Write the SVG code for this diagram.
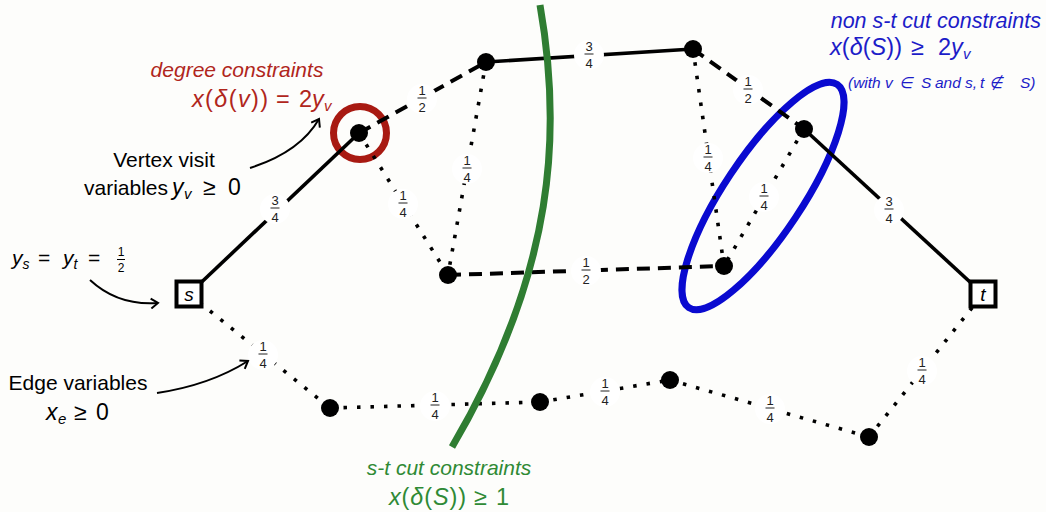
<svg xmlns="http://www.w3.org/2000/svg" width="1046" height="512" viewBox="0 0 1046 512">
<defs>
<style>
.t{font-family:"Liberation Sans",Arial,sans-serif;}
.i{font-style:italic;}
.solid{stroke:#000;stroke-width:3.6;fill:none;}
.dash{stroke:#000;stroke-width:4;fill:none;stroke-dasharray:13 8;}
.dot{stroke:#000;stroke-width:3.6;fill:none;stroke-dasharray:3.5 10;}
.lbg{fill:#ffffff;}
.fr{font-family:"Liberation Sans",Arial,sans-serif;font-size:13px;fill:#222;text-anchor:middle;}
.bar{stroke:#222;stroke-width:1;}
.node{fill:#000;}
.term{fill:#fff;stroke:#000;stroke-width:4;}
.ann{stroke:#000;stroke-width:2;fill:none;}
</style>
<marker id="arr" markerWidth="12" markerHeight="12" refX="9" refY="6" orient="auto" markerUnits="userSpaceOnUse">
<path d="M2,1 L9,6 L2,11" fill="none" stroke="#000" stroke-width="2"/>
</marker>
</defs>
<rect x="0" y="0" width="1046" height="512" fill="#fdfdfb"/>

<g id="degree-ring"><circle cx="360" cy="133" r="26.5" fill="none" stroke="#a81a12" stroke-width="7"/></g>
<g id="cut-ellipse"><ellipse cx="763" cy="196" rx="134" ry="39" transform="rotate(-56.4 763 196)" fill="none" stroke="#0a0ad0" stroke-width="7"/></g>

<g id="connectors">
<line class="solid" x1="189" y1="294" x2="359" y2="133"/>
<line class="dash" x1="359" y1="133" x2="486" y2="62"/>
<line class="solid" x1="486" y1="62" x2="693" y2="49"/>
<line class="dash" x1="693" y1="49" x2="804" y2="129"/>
<line class="solid" x1="804" y1="129" x2="983" y2="294"/>
<line class="dot" x1="359" y1="133" x2="448" y2="275"/>
<line class="dot" x1="486" y1="62" x2="448" y2="275"/>
<line class="dash" x1="448" y1="275" x2="724" y2="266"/>
<line class="dot" x1="693" y1="49" x2="724" y2="266"/>
<line class="dot" x1="804" y1="129" x2="724" y2="266"/>
<line class="dot" x1="189" y1="294" x2="330" y2="408"/>
<line class="dot" x1="330" y1="408" x2="540" y2="402"/>
<line class="dot" x1="540" y1="402" x2="670" y2="380"/>
<line class="dot" x1="670" y1="380" x2="869" y2="437"/>
<line class="dot" x1="869" y1="437" x2="983" y2="294"/>

<g id="edge-labels">
<g transform="translate(275,208)"><circle class="lbg" cx="0" cy="1" r="15"/><text class="fr" x="0" y="-3">3</text><line class="bar" x1="-4.5" y1="0" x2="4.5" y2="0"/><text class="fr" x="0" y="14">4</text></g>
<g transform="translate(422,98)"><circle class="lbg" cx="0" cy="1" r="15"/><text class="fr" x="0" y="-3">1</text><line class="bar" x1="-4.5" y1="0" x2="4.5" y2="0"/><text class="fr" x="0" y="14">2</text></g>
<g transform="translate(589,54)"><circle class="lbg" cx="0" cy="1" r="15"/><text class="fr" x="0" y="-3">3</text><line class="bar" x1="-4.5" y1="0" x2="4.5" y2="0"/><text class="fr" x="0" y="14">4</text></g>
<g transform="translate(748,89)"><circle class="lbg" cx="0" cy="1" r="15"/><text class="fr" x="0" y="-3">1</text><line class="bar" x1="-4.5" y1="0" x2="4.5" y2="0"/><text class="fr" x="0" y="14">2</text></g>
<g transform="translate(889,209)"><circle class="lbg" cx="0" cy="1" r="15"/><text class="fr" x="0" y="-3">3</text><line class="bar" x1="-4.5" y1="0" x2="4.5" y2="0"/><text class="fr" x="0" y="14">4</text></g>
<g transform="translate(403,203)"><circle class="lbg" cx="0" cy="1" r="15"/><text class="fr" x="0" y="-3">1</text><line class="bar" x1="-4.5" y1="0" x2="4.5" y2="0"/><text class="fr" x="0" y="14">4</text></g>
<g transform="translate(467,168)"><circle class="lbg" cx="0" cy="1" r="15"/><text class="fr" x="0" y="-3">1</text><line class="bar" x1="-4.5" y1="0" x2="4.5" y2="0"/><text class="fr" x="0" y="14">4</text></g>
<g transform="translate(586,270)"><circle class="lbg" cx="0" cy="1" r="15"/><text class="fr" x="0" y="-3">1</text><line class="bar" x1="-4.5" y1="0" x2="4.5" y2="0"/><text class="fr" x="0" y="14">2</text></g>
<g transform="translate(708,157)"><circle class="lbg" cx="0" cy="1" r="15"/><text class="fr" x="0" y="-3">1</text><line class="bar" x1="-4.5" y1="0" x2="4.5" y2="0"/><text class="fr" x="0" y="14">4</text></g>
<g transform="translate(764,196)"><circle class="lbg" cx="0" cy="1" r="15"/><text class="fr" x="0" y="-3">1</text><line class="bar" x1="-4.5" y1="0" x2="4.5" y2="0"/><text class="fr" x="0" y="14">4</text></g>
<g transform="translate(263,354)"><circle class="lbg" cx="0" cy="1" r="15"/><text class="fr" x="0" y="-3">1</text><line class="bar" x1="-4.5" y1="0" x2="4.5" y2="0"/><text class="fr" x="0" y="14">4</text></g>
<g transform="translate(435,405)"><circle class="lbg" cx="0" cy="1" r="15"/><text class="fr" x="0" y="-3">1</text><line class="bar" x1="-4.5" y1="0" x2="4.5" y2="0"/><text class="fr" x="0" y="14">4</text></g>
<g transform="translate(605,391)"><circle class="lbg" cx="0" cy="1" r="15"/><text class="fr" x="0" y="-3">1</text><line class="bar" x1="-4.5" y1="0" x2="4.5" y2="0"/><text class="fr" x="0" y="14">4</text></g>
<g transform="translate(770,408)"><circle class="lbg" cx="0" cy="1" r="15"/><text class="fr" x="0" y="-3">1</text><line class="bar" x1="-4.5" y1="0" x2="4.5" y2="0"/><text class="fr" x="0" y="14">4</text></g>
<g transform="translate(922,370)"><circle class="lbg" cx="0" cy="1" r="15"/><text class="fr" x="0" y="-3">1</text><line class="bar" x1="-4.5" y1="0" x2="4.5" y2="0"/><text class="fr" x="0" y="14">4</text></g>
</g>
</g>

<g id="st-cut"><path d="M540,5 C562,130 556,270 452,447" fill="none" stroke="#2f7d32" stroke-width="7"/></g>

<g id="node-s"><rect class="term" x="176.5" y="281.5" width="25" height="25"/><text class="t i" x="189" y="301" font-size="19" text-anchor="middle">s</text></g>
<g id="node-t"><rect class="term" x="970.5" y="281.5" width="25" height="25"/><text class="t i" x="983" y="301" font-size="19" text-anchor="middle">t</text></g>
<g id="node-v1"><circle class="node" cx="359" cy="133" r="9"/></g>
<g id="node-v2"><circle class="node" cx="486" cy="62" r="9"/></g>
<g id="node-v3"><circle class="node" cx="693" cy="49" r="9"/></g>
<g id="node-v4"><circle class="node" cx="804" cy="129" r="9"/></g>
<g id="node-v5"><circle class="node" cx="448" cy="275" r="9"/></g>
<g id="node-v6"><circle class="node" cx="724" cy="266" r="9"/></g>
<g id="node-v7"><circle class="node" cx="330" cy="408" r="9"/></g>
<g id="node-v8"><circle class="node" cx="540" cy="402" r="9"/></g>
<g id="node-v9"><circle class="node" cx="670" cy="380" r="9"/></g>
<g id="node-v10"><circle class="node" cx="869" cy="437" r="9"/></g>

<g id="degree-label" fill="#b0261c">
<text class="t i" x="237" y="77" font-size="21" text-anchor="middle">degree constraints</text>
<text class="t" y="107" font-size="23.5"><tspan x="192" textLength="76" lengthAdjust="spacing"><tspan class="i">x</tspan>(<tspan class="i">δ</tspan>(<tspan class="i">v</tspan>))</tspan><tspan x="276">=</tspan><tspan x="299">2</tspan><tspan class="i" x="312">y</tspan><tspan class="i" font-size="15" x="324" dy="4">v</tspan></text>
</g>

<g id="vertex-label">
<text class="t" x="164" y="167" font-size="21" text-anchor="middle">Vertex visit</text>
<text class="t" y="195" font-size="21"><tspan x="84">variables</tspan><tspan class="i" x="172" font-size="23">y</tspan><tspan class="i" font-size="15" x="184" dy="4">v</tspan><tspan x="203" dy="-4" font-size="23">≥</tspan><tspan x="228" font-size="23">0</tspan></text>
</g>

<g id="terminal-label">
<text class="t" y="265" font-size="21"><tspan class="i" x="12">y</tspan><tspan class="i" font-size="14" dy="4">s</tspan><tspan x="38" dy="-4">=</tspan><tspan class="i" x="63">y</tspan><tspan class="i" font-size="14" dy="4">t</tspan><tspan x="88" dy="-4">=</tspan></text>
<text class="t" x="121" y="256" font-size="12" text-anchor="middle">1</text>
<line x1="117" y1="259.5" x2="125" y2="259.5" stroke="#000" stroke-width="1"/>
<text class="t" x="121" y="272" font-size="12" text-anchor="middle">2</text>
</g>

<g id="edge-var-label">
<text class="t" x="78" y="390" font-size="21" text-anchor="middle">Edge variables</text>
<text class="t" y="420" font-size="23"><tspan class="i" x="46">x</tspan><tspan class="i" font-size="15" x="58" dy="4">e</tspan><tspan x="74" dy="-4">≥</tspan><tspan x="96">0</tspan></text>
</g>

<g id="nonst-label" fill="#1c1cc8">
<text class="t i" x="1041" y="28" font-size="21.5" text-anchor="end">non s-t cut constraints</text>
<text class="t" y="55" font-size="23.5"><tspan x="830" textLength="72" lengthAdjust="spacing"><tspan class="i">x</tspan>(<tspan class="i">δ</tspan>(<tspan class="i">S</tspan>))</tspan><tspan x="911">≥</tspan><tspan x="938">2</tspan><tspan class="i" x="951">y</tspan><tspan class="i" font-size="15" x="963" dy="4">v</tspan></text>
<text class="t i" y="88" font-size="15.5"><tspan x="848">(with</tspan><tspan x="885">v</tspan><tspan x="899">∈</tspan><tspan x="921">S</tspan><tspan x="935">and</tspan><tspan x="965">s,</tspan><tspan x="980">t</tspan><tspan x="989">∉</tspan><tspan x="1020">S)</tspan></text>
</g>

<g id="st-label" fill="#2f8a35">
<text class="t i" x="449" y="475" font-size="21" text-anchor="middle">s-t cut constraints</text>
<text class="t" y="505" font-size="23.5"><tspan x="389" textLength="77" lengthAdjust="spacing"><tspan class="i">x</tspan>(<tspan class="i">δ</tspan>(<tspan class="i">S</tspan>))</tspan><tspan x="474">≥</tspan><tspan x="496">1</tspan></text>
</g>

<g id="annotation-arrows">
<path class="ann" d="M250,168 Q300,152 319,119" marker-end="url(#arr)"/>
<path class="ann" d="M90,280 Q118,306 158,303" marker-end="url(#arr)"/>
<path class="ann" d="M157,393 Q210,385 248,361" marker-end="url(#arr)"/>
</g>
</svg>
